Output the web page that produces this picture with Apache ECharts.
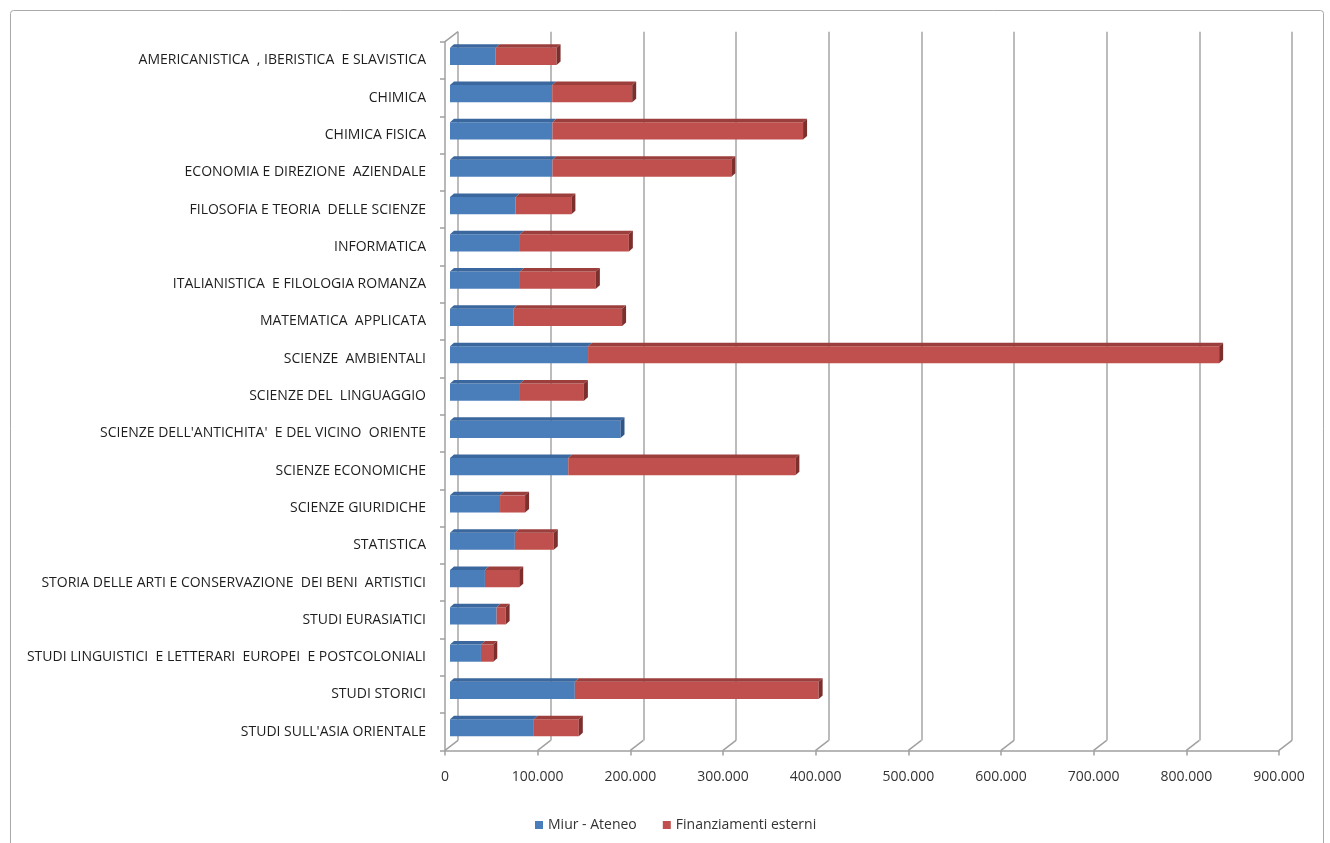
<!DOCTYPE html>
<html>
<head>
<meta charset="utf-8">
<script src="https://cdn.jsdelivr.net/npm/echarts@6/dist/echarts.min.js"></script>
<style>
html,body{margin:0;padding:0;background:#fff;}
#chart{width:1330px;height:843px;}
</style>
</head>
<body>
<div id="chart"></div>
<script>
// ---- data ----
const categories = [
  "AMERICANISTICA  , IBERISTICA  E SLAVISTICA",
  "CHIMICA",
  "CHIMICA FISICA",
  "ECONOMIA E DIREZIONE  AZIENDALE",
  "FILOSOFIA E TEORIA  DELLE SCIENZE",
  "INFORMATICA",
  "ITALIANISTICA  E FILOLOGIA ROMANZA",
  "MATEMATICA  APPLICATA",
  "SCIENZE  AMBIENTALI",
  "SCIENZE DEL  LINGUAGGIO",
  "SCIENZE DELL'ANTICHITA'  E DEL VICINO  ORIENTE",
  "SCIENZE ECONOMICHE",
  "SCIENZE GIURIDICHE",
  "STATISTICA",
  "STORIA DELLE ARTI E CONSERVAZIONE  DEI BENI  ARTISTICI",
  "STUDI EURASIATICI",
  "STUDI LINGUISTICI  E LETTERARI  EUROPEI  E POSTCOLONIALI",
  "STUDI STORICI",
  "STUDI SULL'ASIA ORIENTALE"
];
const miurAteneo = [49300, 110300, 110500, 110500, 70800, 75500, 75500, 68300, 149000, 75500, 184000, 127600, 54000, 70000, 37700, 50300, 33400, 134700, 90500];
const finanziamentiEsterni = [65700, 86300, 270500, 193100, 60200, 117500, 81900, 117400, 681000, 69000, 0, 245100, 27000, 42000, 37000, 9700, 13300, 263100, 48500];
const xTicks = [0, 100000, 200000, 300000, 400000, 500000, 600000, 700000, 800000, 900000];
const seriesNames = ["Miur - Ateneo", "Finanziamenti esterni"];

// ---- styles ----
const COLORS = {
  blue: {front: '#4a7ebb', top: '#3a679e', end: '#2f5687'},
  red: {front: '#c0504d', top: '#9c3f3c', end: '#7d2f2d'}
};
const FONT = 'Open Sans';
const AXIS_GRAY = '#a0a0a0';

function fmt(v) {
  return String(v).replace(/\B(?=(\d{3})+(?!\d))/g, '.');
}

const W = 834;           // width for 0..900000
const H = 708.7;         // 19 category bands
const DX = 4, DY = -3.5; // bar depth
const WX = 13, WY = -10; // wall depth

const miurData = miurAteneo.map((v, i) => [i, 0, v]);
const finData = finanziamentiEsterni.map((v, i) => [i, miurAteneo[i], miurAteneo[i] + v]);

function makeRender(col, isOuter) {
  return function (params, api) {
    const cat = api.value(0);
    const s = api.value(1), e = api.value(2);
    if (e - s <= 0) return null;
    const p0 = api.coord([s, cat]);
    const p1 = api.coord([e, cat]);
    const bh = api.size([0, 1])[1] * 0.46;
    const x0 = p0[0], x1 = p1[0], yc = p0[1];
    const yt = yc - bh / 2, yb = yc + bh / 2;
    const children = [
      {type: 'rect', shape: {x: x0, y: yt, width: x1 - x0, height: bh}, style: {fill: col.front}},
      {type: 'polygon', shape: {points: [[x0, yt], [x0 + DX, yt + DY], [x1 + DX, yt + DY], [x1, yt]]}, style: {fill: col.top}}
    ];
    const last = isOuter || finanziamentiEsterni[params.dataIndex] === 0;
    if (last) {
      children.push({type: 'polygon', shape: {points: [[x1, yt], [x1 + DX, yt + DY], [x1 + DX, yb + DY], [x1, yb]]}, style: {fill: col.end}});
    }
    return {type: 'group', children: children};
  };
}

// floor diagonals joining front ticks to back-wall gridlines
function floorRender(params, api) {
  const v = api.value(0);
  const last = categories.length - 1;
  const p = api.coord([v, last]);
  const band = api.size([0, 1])[1];
  const yb = p[1] + band / 2;
  const children = [
    {type: 'line', shape: {x1: p[0], y1: yb, x2: p[0] + WX, y2: yb + WY}, style: {stroke: AXIS_GRAY, lineWidth: 1.5}}
  ];
  if (params.dataIndex === 0) {
    const q = api.coord([v, 0]);
    const yt = q[1] - band / 2;
    children.push({type: 'line', shape: {x1: q[0], y1: yt, x2: q[0] + WX, y2: yt + WY}, style: {stroke: AXIS_GRAY, lineWidth: 1.5}});
  }
  return {type: 'group', children: children};
}

const chart = echarts.init(document.getElementById('chart'), null, {renderer: 'canvas'});
chart.setOption({
  backgroundColor: '#ffffff',
  animation: false,
  textStyle: {fontFamily: FONT},
  graphic: [{
    type: 'rect', left: 8, top: 8, silent: true,
    shape: {width: 1313, height: 850, r: 3},
    style: {fill: 'none', stroke: '#a9a9a9', lineWidth: 1}
  }],
  grid: [
    {left: 445, top: 41.7, width: W, height: H},       // front (axes)
    {left: 450, top: 37.7, width: W, height: H},       // bars (mid depth)
    {left: 458, top: 31.7, width: W, height: H}        // back wall
  ],
  xAxis: [
    {
      gridIndex: 0, type: 'value', min: 0, max: 900000, interval: 100000,
      axisLine: {show: true, lineStyle: {color: AXIS_GRAY, width: 1.5}},
      axisTick: {show: true, length: 5, lineStyle: {color: AXIS_GRAY, width: 1.5}},
      axisLabel: {margin: 20, color: '#333', fontSize: 14, fontFamily: FONT,
        formatter: v => xTicks.indexOf(v) >= 0 ? fmt(v) : ''},
      splitLine: {show: false}
    },
    {
      gridIndex: 1, type: 'value', min: 0, max: 900000, interval: 100000, show: false
    },
    {
      gridIndex: 2, type: 'value', min: 0, max: 900000, interval: 100000,
      axisLine: {show: false}, axisTick: {show: false}, axisLabel: {show: false},
      splitLine: {show: true, lineStyle: {color: '#a6a6a6', width: 1.5}}
    }
  ],
  yAxis: [
    {
      gridIndex: 0, type: 'category', data: categories, inverse: true,
      axisLine: {show: true, lineStyle: {color: AXIS_GRAY, width: 1.5}},
      axisTick: {show: true, length: 5, lineStyle: {color: AXIS_GRAY, width: 1.5}},
      axisLabel: {margin: 19, color: '#1e1e1e', fontSize: 14, fontFamily: FONT},
      splitLine: {show: false}
    },
    {gridIndex: 1, type: 'category', data: categories, inverse: true, show: false},
    {gridIndex: 2, type: 'category', data: categories, inverse: true, show: false}
  ],
  legend: {
    data: seriesNames,
    top: 818, left: 535, padding: 0,
    icon: 'rect', itemWidth: 8, itemHeight: 8, itemGap: 26,
    textStyle: {color: '#333', fontSize: 14, fontFamily: FONT}
  },
  series: [
    {
      name: 'floor', type: 'custom', xAxisIndex: 0, yAxisIndex: 0, silent: true,
      encode: {x: 0},
      renderItem: floorRender,
      data: xTicks.map(v => [v])
    },
    {
      name: seriesNames[0], type: 'custom', xAxisIndex: 1, yAxisIndex: 1,
      itemStyle: {color: COLORS.blue.front},
      encode: {x: [1, 2], y: 0},
      renderItem: makeRender(COLORS.blue, false),
      data: miurData
    },
    {
      name: seriesNames[1], type: 'custom', xAxisIndex: 1, yAxisIndex: 1,
      itemStyle: {color: COLORS.red.front},
      encode: {x: [1, 2], y: 0},
      renderItem: makeRender(COLORS.red, true),
      data: finData
    }
  ]
});
</script>
</body>
</html>
